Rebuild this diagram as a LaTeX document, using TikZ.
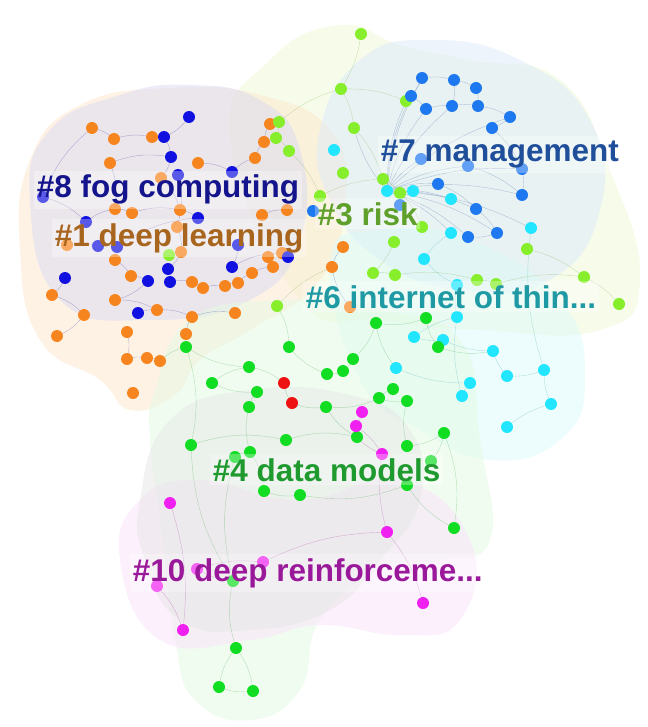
\documentclass[tikz,border=0pt]{standalone}
\usepackage{fontspec}
\newfontfamily\clfont{Liberation Sans}
\usepackage{tikz}

\definecolor{nOrange}{HTML}{F7851F}
\definecolor{nNavy}{HTML}{1010E0}
\definecolor{nLime}{HTML}{86EE2A}
\definecolor{nCyan}{HTML}{22E6FF}
\definecolor{nBlue}{HTML}{1E78F0}
\definecolor{nGreen}{HTML}{11DD22}
\definecolor{nRed}{HTML}{EE1111}
\definecolor{nPink}{HTML}{F020F0}
\definecolor{lNavy}{HTML}{14148C}
\definecolor{lBrown}{HTML}{A8651E}
\definecolor{lOlive}{HTML}{5FA02A}
\definecolor{lBlue}{HTML}{1F4E9A}
\definecolor{lTeal}{HTML}{1F9AA5}
\definecolor{lGreen}{HTML}{1E9A2E}
\definecolor{lPurple}{HTML}{99199A}
\definecolor{aPeach}{HTML}{FDE6CC}
\definecolor{aLav}{HTML}{DADAF4}
\definecolor{aLime}{HTML}{EEF8D6}
\definecolor{aSky}{HTML}{DCEAFA}
\definecolor{aAqua}{HTML}{DCFAFA}
\definecolor{aMint}{HTML}{E2FAE2}
\definecolor{aGrey}{HTML}{E6E6E6}
\definecolor{aRose}{HTML}{FAE2FA}

\begin{document}
\begin{tikzpicture}[x=0.75pt,y=-0.75pt,
    vtx/.style={circle,inner sep=0pt,minimum size=9pt,fill=#1},
    edge/.style={draw=#1,line width=0.3pt,draw opacity=0.3},
    blob/.style={fill=#1,fill opacity=0.5},
    clabel/.style={anchor=base west,inner xsep=2pt,inner ysep=3pt,fill=white,fill opacity=0.3,text opacity=1,
        text=#1,font=\clfont\bfseries\fontsize{23.6}{24}\selectfont}]
    \useasboundingbox (0,0) rectangle (648,727);
    % cluster areas
    \fill[blob=aLime] plot[smooth cycle,tension=0.8] coordinates {(230,140) (270,60) (340,25) (400,45) (470,60) (560,80) (610,170) (640,280) (600,330) (480,330) (380,320) (300,300)};
    \fill[blob=aPeach] plot[smooth cycle,tension=0.8] coordinates {(20,250) (30,160) (80,105) (170,88) (260,95) (330,130) (345,200) (320,280) (250,330) (200,360) (175,395) (130,410) (100,380) (40,340)};
    \fill[blob=aLav] plot[smooth cycle,tension=0.8] coordinates {(30,200) (50,130) (120,95) (190,85) (260,100) (300,150) (300,240) (250,300) (150,320) (60,300)};
    \fill[blob=aSky] plot[smooth cycle,tension=0.8] coordinates {(320,130) (360,60) (430,40) (520,60) (590,120) (600,210) (550,280) (460,290) (380,260) (330,200)};
    \fill[blob=aAqua] plot[smooth cycle,tension=0.8] coordinates {(330,260) (380,230) (470,240) (560,300) (585,380) (560,440) (490,460) (420,430) (360,380)};
    \fill[blob=aMint] plot[smooth cycle,tension=0.8] coordinates {(155,390) (190,320) (280,300) (380,310) (460,340) (480,440) (490,540) (440,560) (380,570) (320,620) (300,690) (250,720) (195,700) (175,640) (160,520) (150,440)};
    \fill[blob=aRose] plot[smooth cycle,tension=0.8] coordinates {(120,560) (140,500) (200,480) (300,500) (400,480) (470,540) (460,620) (400,635) (320,625) (250,640) (160,640)};
    \fill[blob=aGrey] plot[smooth cycle,tension=0.8] coordinates {(140,500) (170,420) (250,390) (350,395) (410,430) (420,500) (380,560) (330,610) (250,630) (180,620) (145,560)};
    % nodes
    \foreach \x/\y [count=\i] in {92/128,114/139,152/137,110/163,198/163,255/158,264/142,270/124,161/178,115/209,132/213,180/210,262/215,287/210,67/245,177/227,181/252,268/257,282/253,115/260,131/276,192/282,203/288,225/286,238/283,252/273,273/267,52/295,115/300,157/310,84/315,192/317,235/313,57/336,127/332,186/334,127/359,147/358,160/361,133/393,332/267,350/307,343/247}
        \coordinate (o\i) at (\x,\y);
    \foreach \x/\y [count=\i] in {189/117,164/137,171/157,178/175,232/172,198/218,86/222,98/246,117/247,238/245,168/269,170/282,148/281,232/267,65/278,138/313,288/257,43/197}
        \coordinate (b\i) at (\x,\y);
    \foreach \x/\y [count=\i] in {361/34,341/89,354/128,279/122,276/138,289/151,343/173,320/196,383/179,400/193,394/242,406/101,422/227,527/249,373/273,395/275,477/280,496/284,584/277,619/304,169/255,277/306}
        \coordinate (g\i) at (\x,\y);
    \foreach \x/\y [count=\i] in {334/150,387/191,413/191,451/199,451/233,531/228,424/259,457/285,457/317,414/337,443/340,493/351,396/368,470/383,462/396,507/376,544/370,551/404,507/427}
        \coordinate (c\i) at (\x,\y);
    \foreach \x/\y [count=\i] in {422/78,454/80,476/88,411/96,426/109,452/106,478/106,510/117,492/128,421/159,468/166,522/169,438/184,522/195,476/209,497/233,468/237,400/205,313/211}
        \coordinate (m\i) at (\x,\y);
    \foreach \x/\y [count=\i] in {186/347,289/347,353/359,343/371,327/374,249/367,212/383,257/392,249/407,326/407,393/389,379/398,407/401,376/323,438/347,426/318,357/437,286/440,191/445,407/446,444/433,250/452,235/457,264/491,300/495,431/461,407/485,454/528,233/581,236/648,219/687,253/691}
        \coordinate (d\i) at (\x,\y);
    \foreach \x/\y [count=\i] in {284/383,292/403}
        \coordinate (r\i) at (\x,\y);
    \foreach \x/\y [count=\i] in {362/412,356/426,382/454,387/532,423/603,170/503,157/586,183/630,263/562,197/569}
        \coordinate (p\i) at (\x,\y);
    % links
    \foreach \a/\b in {c2/m1,c2/m4,c2/m5,c2/m6,c2/m8,c2/m10,c2/m11,c2/m12,c2/m13,c2/m14,c2/m15,c2/m16,c2/m17,c2/c4,c2/c5,c2/c6,c2/g3,c2/g9,c2/g12,m1/m2,m2/m3,m1/m4,m4/m5,m5/m6,m6/m7,m7/m8,m8/m9,m3/m7,m2/m6,m9/m12,m12/m14,m13/m15,m15/m16,m16/m17,m11/m14}
        \draw[edge=lBlue] (\a) to[bend left=12] (\b);
    \foreach \a/\b in {g1/g2,g2/g3,g2/g12,g3/g9,g4/g5,g5/g6,g6/g8,g8/g9,g9/g10,g10/g13,g11/g15,g15/g16,g16/g17,g17/g18,g18/g19,g19/g20,g14/g19,g22/o41,g4/g2}
        \draw[edge=lOlive] (\a) to[bend left=12] (\b);
    \foreach \a/\b in {c7/c8,c8/c9,c9/c10,c10/c11,c11/c12,c12/c16,c16/c17,c17/c18,c18/c19,c13/c14,c14/c15,c5/c7,c6/c17,c9/c15}
        \draw[edge=lTeal] (\a) to[bend right=12] (\b);
    \foreach \a/\b in {o1/o2,o2/o3,o3/b2,b1/b2,b2/b3,b3/o9,o4/o10,o10/o11,o11/o12,o12/b6,o16/o17,o17/b11,b11/b12,b12/o22,o22/o23,o23/o24,o24/o25,o25/o26,o26/o27,o13/o14,o6/o7,o7/o8,o15/b8,b8/b9,b9/o20,o20/o21,o21/b13,b13/o29,o29/o30,o30/o32,o32/o33,o28/o31,o31/o34,o35/o37,o37/o38,o38/o39,o36/o32,b7/o10,b15/o28,b16/o30,b18/o1,o5/b5,b5/o6,b10/b14,b14/o19,b17/o19,o41/o43,o42/o41,b4/o16,b9/b6,o9/o12,b18/b7,o4/b3}
        \draw[edge=lNavy] (\a) to[bend left=15] (\b);
    \foreach \a/\b in {d1/d6,d6/d7,d7/d8,d8/d9,d9/d22,d22/d23,d2/d5,d5/d4,d4/d3,d3/d14,d14/d16,d16/d15,d11/d12,d12/d13,d13/d20,d20/d21,d10/d17,d17/d18,d18/d19,d19/d1,d24/d25,d25/d27,d27/d28,d26/d21,d29/d30,d30/d31,d31/d32,d32/d30,d23/d29,r1/r2,r1/d6,r2/d10,d10/d12,d1/o39,d2/g22,d14/c13,d19/d29,d24/d22,d28/d21,d15/c12}
        \draw[edge=lGreen] (\a) to[bend right=15] (\b);
    \foreach \a/\b in {p1/p2,p2/p3,p3/d17,p6/p8,p7/p8,p10/p9,p9/p4,p4/p5,p4/p3,d29/p10}
        \draw[edge=lPurple] (\a) to[bend left=12] (\b);
    \foreach \i in {1,...,43} \node[vtx=nOrange] at (o\i) {};
    \foreach \i in {1,...,18} \node[vtx=nNavy] at (b\i) {};
    \foreach \i in {1,...,22} \node[vtx=nLime] at (g\i) {};
    \foreach \i in {1,...,19} \node[vtx=nCyan] at (c\i) {};
    \foreach \i in {1,...,19} \node[vtx=nBlue] at (m\i) {};
    \foreach \i in {1,...,32} \node[vtx=nGreen] at (d\i) {};
    \foreach \i in {1,2} \node[vtx=nRed] at (r\i) {};
    \foreach \i in {1,...,10} \node[vtx=nPink] at (p\i) {};
    % cluster labels
    \node[clabel=lNavy] (l8) at (34,198) {\#8 fog computing};
    \node[clabel=lBrown] (l1) at (52,246) {\#1 deep learning};
    \node[clabel=lOlive] (l3) at (315,225) {\#3 risk};
    \node[clabel=lBlue] (l7) at (378,162) {\#7 management};
    \node[clabel=lTeal] (l6) at (303,308) {\#6 internet of thin...};
    \node[clabel=lGreen] (l4) at (210,481) {\#4 data models};
    \node[clabel=lPurple] (l10) at (130,581) {\#10 deep reinforceme...};
\end{tikzpicture}
\end{document}
